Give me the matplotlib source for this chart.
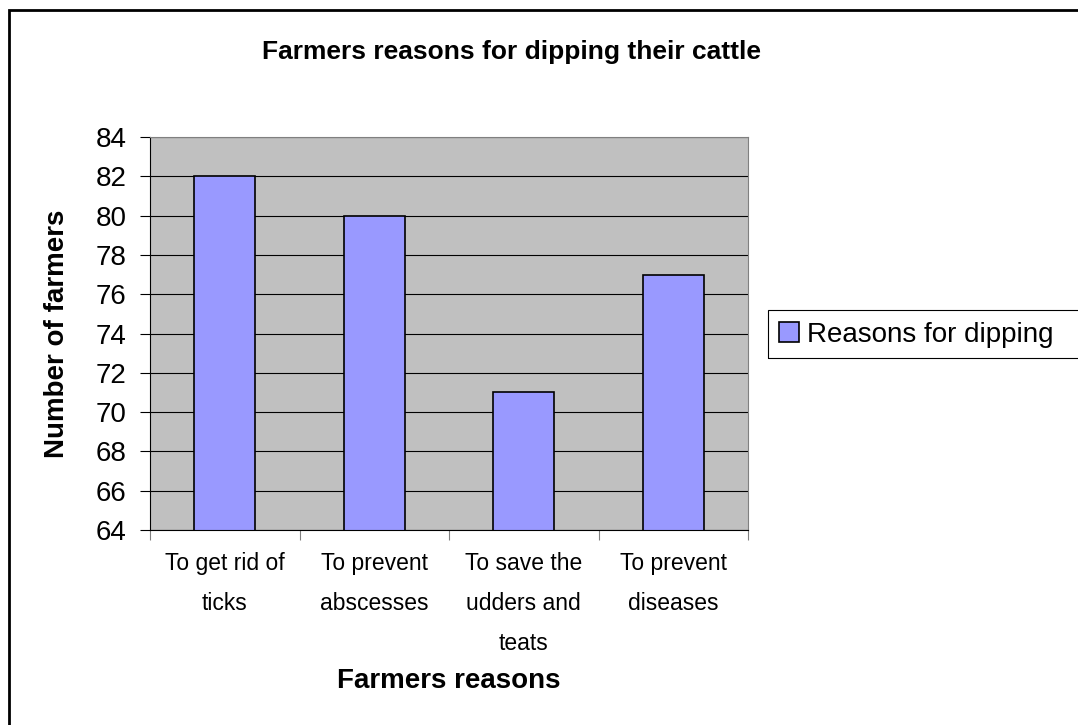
import matplotlib.pyplot as plt
import matplotlib.patches as mpatches
import numpy as np

plt.rcParams['font.family'] = ['Liberation Sans', 'DejaVu Sans']

categories = ["To get rid of\nticks", "To prevent\nabscesses",
              "To save the\nudders and\nteats", "To prevent\ndiseases"]
farmers = [82, 80, 71, 77]
yticks = np.arange(64, 85, 2)

fig = plt.figure(figsize=(10.78, 7.25), dpi=100)
ax = fig.add_axes([150/1078, 1 - 530/725, 598/1078, 393/725])
ax.set_facecolor('#C0C0C0')

x = np.arange(len(categories))
ax.set_axisbelow(True)
ax.yaxis.grid(True, color='black', linewidth=0.8)
bars = ax.bar(x, farmers, width=0.41, color='#9999FF', edgecolor='black',
              linewidth=1.2, label='Reasons for dipping')

ax.set_xlim(-0.5, len(categories) - 0.5)
ax.set_ylim(64, 84)
ax.set_yticks(yticks)
ax.tick_params(axis='y', labelsize=20, length=7, width=0.8, pad=10)

# category labels centred, tick marks sit between the categories
ax.set_xticks(x)
ax.set_xticklabels(categories, fontsize=16.5, linespacing=1.93, va='top')
ax.set_xticks(np.arange(-0.5, len(categories)), minor=True)
ax.tick_params(axis='x', which='major', length=0, pad=16)
ax.tick_params(axis='x', which='minor', length=7, width=0.8, color='#808080')

for side in ('top', 'right'):
    ax.spines[side].set_color('#808080')
for side in ('left', 'bottom'):
    ax.spines[side].set_color('black')

ax.set_ylabel('Number of farmers', fontsize=20, fontweight='bold')
ax.yaxis.set_label_coords(-80/598, 0.5)
fig.text(449/1078, 1 - 681/725, 'Farmers reasons', fontsize=20,
         fontweight='bold', ha='center', va='center')
fig.text(512/1078, 1 - 52/725, 'Farmers reasons for dipping their cattle',
         fontsize=19, fontweight='bold', ha='center', va='center')

# legend without its own frame; the box is drawn separately so it can
# run past the right edge
leg = fig.legend(loc='center left', bbox_to_anchor=(779/1078, 1 - 335/725),
                 fontsize=20, frameon=False, borderpad=0,
                 handlelength=0.72, handleheight=0.72, handletextpad=0.3,
                 borderaxespad=0)
fig.patches.append(mpatches.Rectangle((768/1078, 1 - 358/725), 0.3, 48/725,
                                      transform=fig.transFigure, fill=False,
                                      edgecolor='black', linewidth=0.8))

# outer chart border, running off the right and bottom edges
fig.patches.append(mpatches.Rectangle((9/1078, -0.1), 1.2, 1 - 10/725 + 0.1,
                                      transform=fig.transFigure, fill=False,
                                      edgecolor='black', linewidth=2))

fig.savefig('out.png', dpi=100)
